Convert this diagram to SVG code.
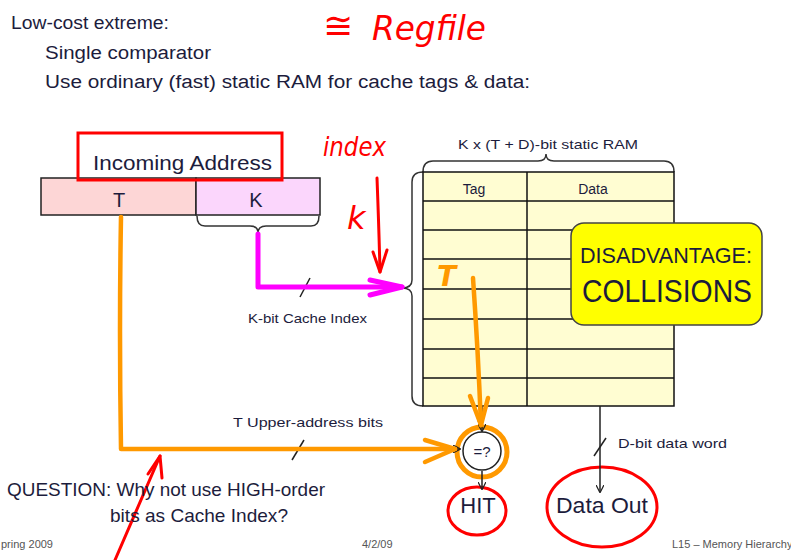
<svg xmlns="http://www.w3.org/2000/svg" width="791" height="560" viewBox="0 0 791 560">
<style>
.t{font-family:"Liberation Sans",Arial,sans-serif;fill:#1c1c3c}
.hd{font-size:18px}
.sm{font-size:13px}
.ft{font-family:"Liberation Sans",Arial,sans-serif;font-size:11px;fill:#555}
.hand{font-family:"DejaVu Sans",sans-serif;fill:#ff0000;font-style:italic}
.brace{fill:none;stroke:#333;stroke-width:1.5}
.wire{fill:none;stroke:#222;stroke-width:1.5}
.org{fill:none;stroke:#ff9900;stroke-width:4.5;stroke-linecap:round;stroke-linejoin:round}
.mag{fill:none;stroke:#ff00ff;stroke-width:5;stroke-linecap:round;stroke-linejoin:round}
.red{fill:none;stroke:#ff0000;stroke-width:3;stroke-linecap:round;stroke-linejoin:round}
.cell{fill:#fffdd2;stroke:#111;stroke-width:1.5}
</style>
<defs>
<marker id="ah" viewBox="0 0 10 10" refX="9" refY="5" markerWidth="8" markerHeight="8" orient="auto" markerUnits="userSpaceOnUse">
<path d="M0,0 L10,5 L0,10" fill="none" stroke="#222" stroke-width="1.5"/>
</marker>
</defs>
<rect width="791" height="560" fill="#ffffff"/>

<g id="header">
<text class="t hd" x="11" y="29" textLength="158" lengthAdjust="spacingAndGlyphs">Low-cost extreme:</text>
<text class="t hd" x="45" y="59" textLength="166" lengthAdjust="spacingAndGlyphs">Single comparator</text>
<text class="t hd" x="45" y="88" textLength="485" lengthAdjust="spacingAndGlyphs">Use ordinary (fast) static RAM for cache tags &amp; data:</text>
</g>

<g id="regfile-note">
<text class="hand" x="323" y="38" font-size="36">≅</text>
<text class="hand" x="372" y="40" font-size="34" textLength="114" lengthAdjust="spacingAndGlyphs">Regfile</text>
</g>

<g id="address">
<rect x="41" y="178" width="155" height="37" fill="#fdd6d6" stroke="#222" stroke-width="1.5"/>
<rect x="196" y="178" width="124" height="37" fill="#fbd6fc" stroke="#222" stroke-width="1.5"/>
<text class="t" x="119" y="207" font-size="20" text-anchor="middle">T</text>
<text class="t" x="256" y="207" font-size="20" text-anchor="middle">K</text>
<text class="t" x="93" y="170" font-size="21" textLength="179" lengthAdjust="spacingAndGlyphs">Incoming Address</text>
<rect x="78" y="133" width="204" height="47" fill="none" stroke="#ff0000" stroke-width="3"/>
<path class="brace" d="M197,216 Q197,226 205,226 L250,226 Q258,226 258,233 Q258,226 266,226 L311,226 Q319,226 319,216"/>
</g>

<g id="ram">
<text class="t sm" x="458" y="149" textLength="180" lengthAdjust="spacingAndGlyphs">K x (T + D)-bit static RAM</text>
<path class="brace" d="M423,172 Q423,161 433,161 L538,161 Q546,161 546,154 Q546,161 554,161 L664,161 Q674,161 674,172"/>
<path class="brace" d="M423,172 Q412,172 412,182 L412,280 Q412,288 402,288 Q412,288 412,296 L412,396 Q412,406 423,406"/>
<rect class="cell" x="423" y="172" width="251" height="234"/>
<line x1="527" y1="172" x2="527" y2="406" stroke="#111" stroke-width="1.5"/>
<g stroke="#111" stroke-width="1.5">
<line x1="423" y1="201" x2="674" y2="201"/>
<line x1="423" y1="230" x2="674" y2="230"/>
<line x1="423" y1="259" x2="674" y2="259"/>
<line x1="423" y1="289" x2="674" y2="289"/>
<line x1="423" y1="319" x2="674" y2="319"/>
<line x1="423" y1="349" x2="674" y2="349"/>
<line x1="423" y1="378" x2="674" y2="378"/>
</g>
<text class="t" x="474" y="194" font-size="14" text-anchor="middle">Tag</text>
<text class="t" x="593" y="194" font-size="14" text-anchor="middle">Data</text>
</g>

<g id="disadvantage">
<rect x="571" y="223" width="191" height="102" rx="13" fill="#ffff00" stroke="#444" stroke-width="1.5"/>
<text class="t" x="580" y="263" font-size="22" fill="#222" textLength="172" lengthAdjust="spacingAndGlyphs">DISADVANTAGE:</text>
<text class="t" x="582" y="302" font-size="31" textLength="170" lengthAdjust="spacingAndGlyphs">COLLISIONS</text>
</g>

<g id="comparator">
<circle cx="482" cy="451" r="19" fill="#fff" stroke="#222" stroke-width="1.5"/>
<text class="t" x="482" y="457" font-size="15" text-anchor="middle">=?</text>
<circle cx="482" cy="452" r="25" fill="none" stroke="#ff9900" stroke-width="5"/>
</g>

<g id="hit">
<text class="t" x="478" y="513" font-size="22" text-anchor="middle">HIT</text>
<ellipse cx="477" cy="511" rx="29" ry="24" class="red"/>
</g>

<g id="data-out">
<text class="t" x="602" y="513" font-size="22" text-anchor="middle" textLength="92" lengthAdjust="spacingAndGlyphs">Data Out</text>
<ellipse cx="602" cy="507" rx="55" ry="40" class="red"/>
</g>

<g id="connectors">
<polyline class="wire" points="121,215 121,449 460,449" marker-end="url(#ah)"/>
<polyline class="wire" points="258,233 258,287 402,287"/>
<line class="wire" x1="482" y1="406" x2="482" y2="431" marker-end="url(#ah)"/>
<line class="wire" x1="482" y1="471" x2="482" y2="489" marker-end="url(#ah)"/>
<line class="wire" x1="600" y1="406" x2="600" y2="492" marker-end="url(#ah)"/>
<line class="wire" x1="300" y1="297" x2="310" y2="278"/>
<line class="wire" x1="292" y1="460" x2="304" y2="440"/>
<line class="wire" x1="594" y1="456" x2="606" y2="438"/>
<line class="wire" x1="478" y1="422" x2="485" y2="414"/>
<text class="t sm" x="248" y="323" textLength="119" lengthAdjust="spacingAndGlyphs">K-bit Cache Index</text>
<text class="t sm" x="233" y="427" textLength="150" lengthAdjust="spacingAndGlyphs">T Upper-address bits</text>
<text class="t sm" x="618" y="448" textLength="109" lengthAdjust="spacingAndGlyphs">D-bit data word</text>
<path class="org" d="M121,217 Q119,330 121,449 L455,449"/>
<path class="org" d="M425,440 L455,449 L425,462"/>
<path class="mag" d="M258,234 L258,287 L402,287"/>
<path class="mag" d="M370,280 L402,287 L370,295"/>
<path class="org" d="M473,278 Q478,350 481,425"/>
<path class="org" d="M470,396 L481,425 L488,398"/>
</g>

<g id="annotations">
<text class="hand" x="323" y="156" font-size="27" textLength="63" lengthAdjust="spacingAndGlyphs">index</text>
<text class="hand" x="347" y="229" font-size="32">k</text>
<path class="red" d="M377,178 Q379,230 380,272"/>
<path class="red" d="M373,252 L380,272 L387,250"/>
<text x="437" y="286" font-family="DejaVu Sans,sans-serif" font-style="italic" font-weight="bold" font-size="28" fill="#ff9900">T</text>
<path class="red" d="M115,560 L160,456"/>
<path class="red" d="M148,474 L160,456 L162,478"/>
</g>

<g id="question">
<text class="t" x="7" y="496" font-size="19" textLength="318" lengthAdjust="spacingAndGlyphs">QUESTION: Why not use HIGH-order</text>
<text class="t" x="110" y="522" font-size="19" textLength="178" lengthAdjust="spacingAndGlyphs">bits as Cache Index?</text>
</g>

<g id="footer">
<text class="ft" x="1" y="548">pring 2009</text>
<text class="ft" x="362" y="548">4/2/09</text>
<text class="ft" x="672" y="548">L15 – Memory Hierarchy</text>
</g>
</svg>
